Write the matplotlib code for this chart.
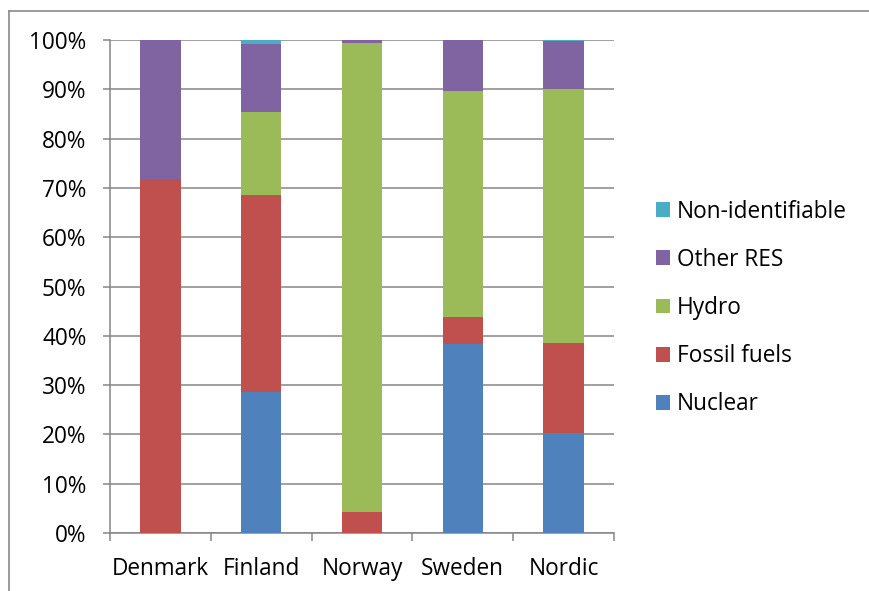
import matplotlib.pyplot as plt
import numpy as np
from matplotlib.lines import Line2D
from matplotlib.ticker import FixedLocator, PercentFormatter

# share of electricity supply by source, percent
regions = ["Denmark", "Finland", "Norway", "Sweden", "Nordic"]
nuclear = [0.0, 28.5, 0.0, 38.4, 20.2]
fossil = [71.8, 40.1, 4.3, 5.4, 18.4]
hydro = [0.0, 16.8, 95.1, 45.8, 51.5]
other_res = [28.2, 13.8, 0.6, 10.4, 9.6]
non_ident = [0.0, 0.8, 0.0, 0.0, 0.3]

series = [
    ("Nuclear", nuclear, "#4F81BD"),
    ("Fossil fuels", fossil, "#C0504D"),
    ("Hydro", hydro, "#9BBB59"),
    ("Other RES", other_res, "#8064A2"),
    ("Non-identifiable", non_ident, "#4BACC6"),
]

W, H, DPI = 870, 591, 100
plt.rcParams["font.family"] = ["Open Sans", "DejaVu Sans"]
grid_col = "#868686"
fs = 16.3

fig = plt.figure(figsize=(W / DPI, H / DPI), dpi=DPI)
ax = fig.add_axes([110 / W, 1 - 533 / H, (614 - 110) / W, (533 - 40) / H])

x = np.arange(len(regions))
bottom = np.zeros(len(regions))
handles = []
for name, vals, col in series:
    vals = np.array(vals)
    bars = ax.bar(x, vals, width=0.4, bottom=bottom, color=col, label=name,
                  edgecolor="none", zorder=3)
    handles.append(bars)
    bottom += vals

ax.set_xlim(-0.5, len(regions) - 0.5)
ax.set_ylim(0, 100)
ax.set_yticks(np.arange(0, 101, 10))
ax.yaxis.set_major_formatter(PercentFormatter(decimals=0))
ax.yaxis.grid(True, color=grid_col, lw=1.1, zorder=0)

ax.set_xticks(x)
ax.set_xticklabels(regions)
ax.xaxis.set_minor_locator(FixedLocator(np.arange(-0.5, len(regions), 1.0)))
ax.tick_params(axis="x", which="major", length=0, pad=17, labelsize=fs)
ax.tick_params(axis="x", which="minor", length=6, width=1.1, color=grid_col,
               direction="out")
ax.tick_params(axis="y", length=5, width=1.1, color=grid_col, pad=12,
               labelsize=fs)

for side in ("top", "right"):
    ax.spines[side].set_visible(False)
for side in ("left", "bottom"):
    ax.spines[side].set_color(grid_col)
    ax.spines[side].set_linewidth(1.1)

leg = fig.legend(handles[::-1], [s[0] for s in series][::-1],
                 loc="center left", bbox_to_anchor=(656 / W, 1 - 308 / H),
                 frameon=False, fontsize=fs, handlelength=0.62,
                 handleheight=0.62, handletextpad=0.3, labelspacing=1.07,
                 borderaxespad=0, borderpad=0)

# chart area outline
fig.add_artist(Line2D([9 / W, 9 / W], [0, 1 - 11 / H], color="#8a8a8a", lw=1.2))
fig.add_artist(Line2D([9 / W, 1], [1 - 11 / H, 1 - 11 / H], color="#8a8a8a", lw=1.2))

fig.savefig("out.png", dpi=DPI)
